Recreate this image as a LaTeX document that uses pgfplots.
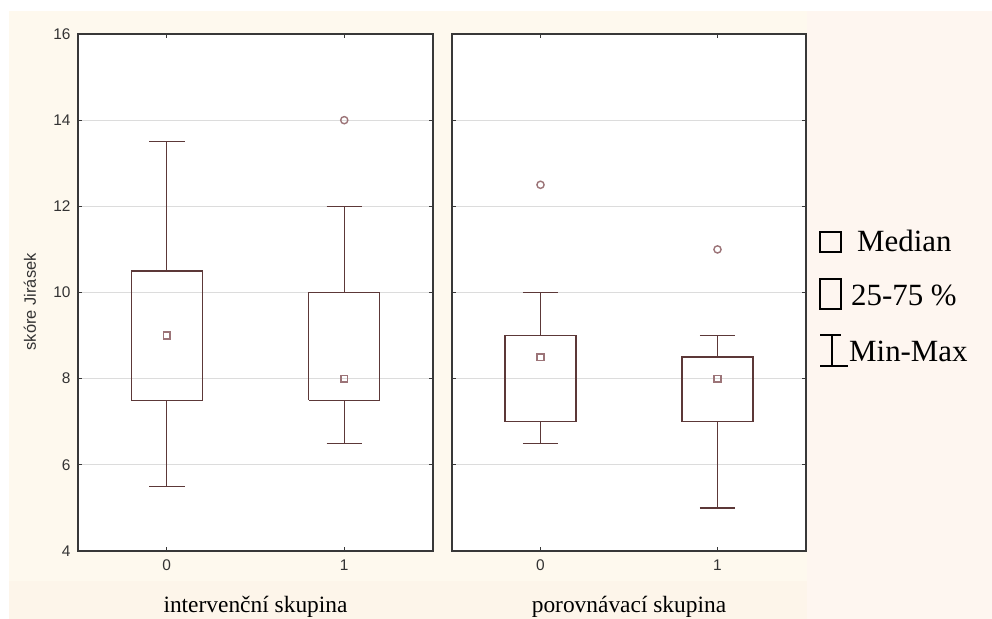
\documentclass[border=0pt]{standalone}
\usepackage{fontspec}
\setmainfont{Liberation Serif}
\newfontfamily\arial{Liberation Sans}
\usepackage{pgfplots}
\pgfplotsset{compat=1.18}
\definecolor{cream}{HTML}{FEF9EE}
\definecolor{pinkbg}{HTML}{FEF6F0}
\definecolor{botbg}{HTML}{FDF5EA}
\definecolor{boxc}{HTML}{5C3838}
\definecolor{medc}{HTML}{9C7478}
\definecolor{gridc}{HTML}{DCDCDC}
\definecolor{framec}{HTML}{383838}

\pgfplotsset{
 panel/.style={
  scale only axis, height=517bp, anchor=south west,
  xmin=-0.5, xmax=1.5, ymin=4, ymax=16,
  xtick={0,1}, ytick={4,6,...,16},
  ymajorgrids, grid style={gridc, line width=0.8bp},
  axis line style={framec, line width=1.4bp},
  axis background/.style={fill=white},
  tick align=inside, major tick length=4bp,
  tick style={framec, line width=1bp},
  tick label style={font=\arial\fontsize{15.5}{17}\selectfont, text=black!80},
  /pgf/number format/assume math mode=true,
  xticklabel style={yshift=-5bp},
  yticklabel style={xshift=-4bp},
  x label style={at={(axis description cs:0.5,0)}, anchor=base, yshift=-61bp,
                 font=\fontsize{23.5}{26}\selectfont},
  unbounded coords=jump,
  clip=false,
 },
 bx/.style={boxc, line width=1.4bp, solid, mark=none, line join=miter},
 outl/.style={only marks, mark=o, mark size=3.6bp, medc, line width=1.4bp},
 med/.style={only marks, mark=square, mark size=3.3bp, medc, line width=1.7bp},
}

\begin{document}
\begin{tikzpicture}
\useasboundingbox (0bp,0bp) rectangle (992bp,619bp);
\fill[white] (0bp,0bp) rectangle (992bp,619bp);
\fill[cream] (9bp,0bp) rectangle (807bp,608bp);
\fill[botbg] (9bp,0bp) rectangle (807bp,38bp);
\fill[pinkbg] (807bp,0bp) rectangle (992bp,608bp);

% left panel: intervencni skupina
\begin{axis}[panel, at={(78bp,68bp)}, width=355bp,
  ylabel={skóre Jirásek},
  y label style={at={(axis description cs:-0.1352,0.482)}, anchor=center,
                 font=\arial\fontsize{16.5}{18}\selectfont, text=black!80},
  xlabel={intervenční skupina}]
% group 0: min 5.5, q1 7.5, median 9, q3 10.5, max 13.5
\addplot[bx] coordinates {(-0.2,7.5) (0.2,7.5) (0.2,10.5) (-0.2,10.5) (-0.2,7.5) (0,nan)
  (0,10.5) (0,13.5) (0,nan) (-0.1,13.5) (0.1,13.5) (0,nan)
  (0,7.5) (0,5.5) (0,nan) (-0.1,5.5) (0.1,5.5)};
% group 1: min 6.5, q1 7.5, median 8, q3 10, max 12, outlier 14
\addplot[bx] coordinates {(0.8,7.5) (1.2,7.5) (1.2,10) (0.8,10) (0.8,7.5) (1,nan)
  (1,10) (1,12) (1,nan) (0.9,12) (1.1,12) (1,nan)
  (1,7.5) (1,6.5) (1,nan) (0.9,6.5) (1.1,6.5)};
\addplot[outl] coordinates {(1,14)};
\addplot[med] coordinates {(0,9) (1,8)};
\end{axis}

% right panel: porovnavaci skupina
\begin{axis}[panel, at={(452bp,68bp)}, width=354bp, yticklabels={},
  xlabel={porovnávací skupina}]
% group 0: min 6.5, q1 7, median 8.5, q3 9, max 10, outlier 12.5
\addplot[bx] coordinates {(-0.2,7) (0.2,7) (0.2,9) (-0.2,9) (-0.2,7) (0,nan)
  (0,9) (0,10) (0,nan) (-0.1,10) (0.1,10) (0,nan)
  (0,7) (0,6.5) (0,nan) (-0.1,6.5) (0.1,6.5)};
% group 1: min 5, q1 7, median 8, q3 8.5, max 9, outlier 11
\addplot[bx] coordinates {(0.8,7) (1.2,7) (1.2,8.5) (0.8,8.5) (0.8,7) (1,nan)
  (1,8.5) (1,9) (1,nan) (0.9,9) (1.1,9) (1,nan)
  (1,7) (1,5) (1,nan) (0.9,5) (1.1,5)};
\addplot[outl] coordinates {(0,12.5) (1,11)};
\addplot[med] coordinates {(0,8.5) (1,8)};
\end{axis}

% legend
\draw[line width=1.5bp] (820bp,367bp) rectangle (841bp,387bp);
\node[anchor=base west, inner sep=0pt, font=\fontsize{31}{34}\selectfont] at (857bp,367bp) {Median};
\draw[line width=1.5bp] (820bp,310bp) rectangle (841bp,340bp);
\node[anchor=base west, inner sep=0pt, font=\fontsize{31}{34}\selectfont] at (851bp,313bp) {25-75 \%};
\draw[line width=1.5bp] (820bp,284bp) -- (841bp,284bp) (832bp,284bp) -- (832bp,253bp) (820bp,253bp) -- (848bp,253bp);
\node[anchor=base west, inner sep=0pt, font=\fontsize{31}{34}\selectfont] at (849bp,257bp) {Min-Max};
\end{tikzpicture}
\end{document}
